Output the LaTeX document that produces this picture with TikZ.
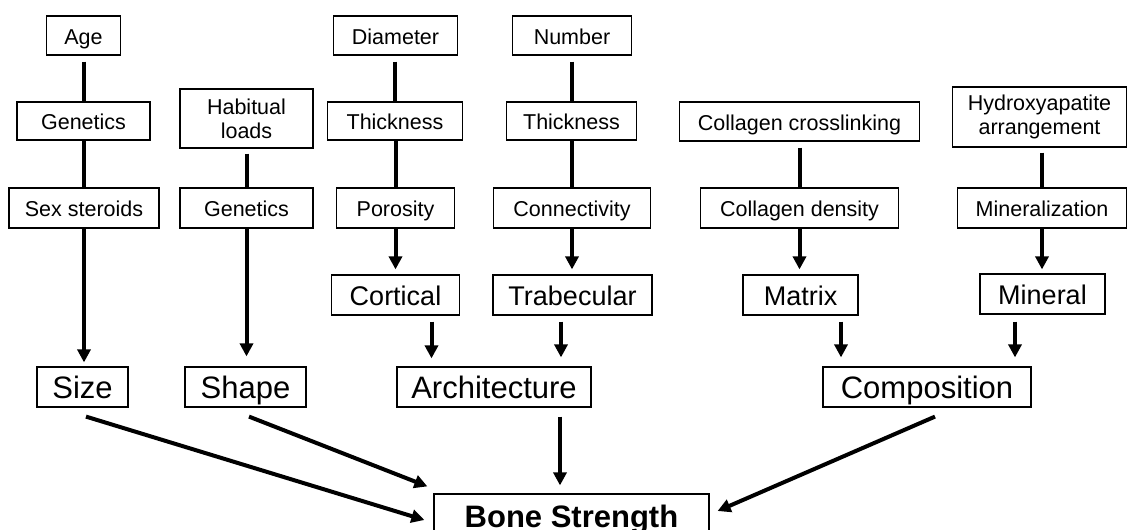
\documentclass[tikz,border=0pt]{standalone}
\usepackage{fontspec}
\setmainfont{Liberation Sans}
\usetikzlibrary{arrows.meta}
\begin{document}
\begin{tikzpicture}[x=1pt,y=-1pt,
  box/.style={draw=black, line width=1.2pt, inner sep=0pt, anchor=center},
  fs/.style={box, font=\fontsize{21.5}{24.5}\selectfont, text height=17.5pt, text depth=0pt},
  fstwo/.style={box, font=\fontsize{21.5}{24}\selectfont, align=center},
  fm/.style={box, font=\fontsize{27}{30}\selectfont, text height=21pt, text depth=0pt},
  fl/.style={box, font=\fontsize{31}{34}\selectfont, text height=22.3pt, text depth=0pt},
  fb/.style={box, font=\fontsize{31}{34}\selectfont\bfseries, text height=22.3pt, text depth=0pt},
  link/.style={line width=4pt},
  arr/.style={line width=4pt, -{Triangle[width=13pt,length=13pt]}},
]
\fill[white] (0,0) rectangle (1127,530);
\useasboundingbox (0,0) rectangle (1127,530);

% row 1
\node[fs, minimum width=74pt, minimum height=39pt] (age) at (83.5,35.5) {Age};
\node[fs, minimum width=124pt, minimum height=39pt] (diam) at (395.5,35.5) {Diameter};
\node[fs, minimum width=119pt, minimum height=39pt] (num) at (572,35.5) {Number};
% row 2
\node[fs, minimum width=133pt, minimum height=38pt] (gen1) at (83.5,121) {Genetics};
\node[fstwo, minimum width=133pt, minimum height=59pt] (hab) at (246.5,118.5) {Habitual\\loads};
\node[fs, minimum width=135pt, minimum height=38pt] (thk1) at (395,121) {Thickness};
\node[fs, minimum width=130pt, minimum height=38pt] (thk2) at (571.5,121) {Thickness};
\node[fs, minimum width=240pt, minimum height=39pt] (coll) at (799.5,121.5) {Collagen crosslinking};
\node[fstwo, minimum width=174pt, minimum height=60pt] (hyd) at (1039.5,117) {Hydroxyapatite\\arrangement};
% row 3
\node[fs, minimum width=150pt, minimum height=40pt] (sex) at (84,208) {Sex steroids};
\node[fs, minimum width=133pt, minimum height=40pt] (gen2) at (246.5,208) {Genetics};
\node[fs, minimum width=118pt, minimum height=40pt] (por) at (395.5,208) {Porosity};
\node[fs, minimum width=157pt, minimum height=40pt] (conn) at (572,208) {Connectivity};
\node[fs, minimum width=198pt, minimum height=40pt] (cden) at (799.5,208) {Collagen density};
\node[fs, minimum width=169pt, minimum height=40pt] (minz) at (1042,208) {Mineralization};
% row 4
\node[fm, minimum width=128pt, minimum height=40pt] (cort) at (395.5,295) {Cortical};
\node[fm, minimum width=159pt, minimum height=40pt] (trab) at (572.5,295) {Trabecular};
\node[fm, minimum width=115pt, minimum height=40pt] (matx) at (800.5,295) {Matrix};
\node[fm, minimum width=125pt, minimum height=40pt] (minl) at (1042.5,294) {Mineral};
% row 5
\node[fl, minimum width=91pt, minimum height=40pt] (size) at (82.5,387) {Size};
\node[fl, minimum width=121pt, minimum height=40pt] (shape) at (245.5,387) {Shape};
\node[fl, minimum width=194pt, minimum height=40pt] (arch) at (494,387) {Architecture};
\node[fl, minimum width=208pt, minimum height=40pt] (comp) at (927,387) {Composition};
% bottom
\node[fb, minimum width=275pt, minimum height=44pt] (bs) at (571.5,516) {Bone Strength};

% plain column links
\draw[link, shorten <=6pt] (gen1.north |- age.south) -- (gen1.north);
\draw[link] (sex.north |- gen1.south) -- (sex.north);
\draw[link, shorten <=5pt] (gen2.north |- hab.south) -- (gen2.north);
\draw[link, shorten <=6pt] (thk1.north |- diam.south) -- (thk1.north);
\draw[link] (por.north |- thk1.south) -- (por.north);
\draw[link, shorten <=6pt] (thk2.north |- num.south) -- (thk2.north);
\draw[link] (conn.north |- thk2.south) -- (conn.north);
\draw[link, shorten <=6pt] (cden.north |- coll.south) -- (cden.north);
\draw[link, shorten <=5pt] (minz.north |- hyd.south) -- (minz.north);

% arrows row 3 -> row 4/5
\draw[arr, shorten >=4pt] (sex.south) -- (sex.south |- size.north);
\draw[arr, shorten >=10pt] (gen2.south) -- (gen2.south |- shape.north);
\draw[arr, shorten >=5pt] (por.south) -- (por.south |- cort.north);
\draw[arr, shorten >=5pt] (conn.south) -- (conn.south |- trab.north);
\draw[arr, shorten >=5pt] (cden.south) -- (cden.south |- matx.north);
\draw[arr, shorten >=4pt] (minz.south) -- (minz.south |- minl.north);

% row 4 -> row 5
\draw[arr, shorten <=6pt, shorten >=8pt] ([xshift=36pt]cort.south) -- ([xshift=36pt]cort.south |- arch.north);
\draw[arr, shorten <=6pt, shorten >=9pt] ([xshift=-11.5pt]trab.south) -- ([xshift=-11.5pt]trab.south |- arch.north);
\draw[arr, shorten <=6pt, shorten >=9pt] ([xshift=40.5pt]matx.south) -- ([xshift=40.5pt]matx.south |- comp.north);
\draw[arr, shorten <=7pt, shorten >=9pt] ([xshift=-27.5pt]minl.south) -- ([xshift=-27.5pt]minl.south |- comp.north);

% row 5 -> bone strength
\draw[arr] ([shift={(3.5,9)}]size.south) -- ([shift={(-9,4)}]bs.west);
\draw[arr] ([shift={(3.5,9)}]shape.south) -- ([shift={(-6,-7)}]bs.north west);
\draw[arr, shorten <=9pt, shorten >=8pt] ([xshift=66pt]arch.south) -- ([xshift=66pt]arch.south |- bs.north);
\draw[arr] ([shift={(8,9)}]comp.south) -- ([shift={(8,-5)}]bs.east);
\end{tikzpicture}
\end{document}
